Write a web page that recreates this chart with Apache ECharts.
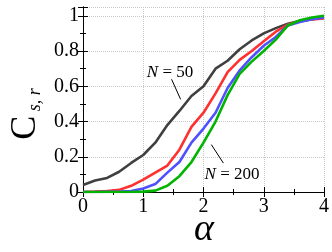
<!DOCTYPE html>
<html><head><meta charset="utf-8">
<script src="https://cdn.jsdelivr.net/npm/echarts@6/dist/echarts.min.js"></script>
<style>html,body{margin:0;padding:0;background:#fff}#c{width:332px;height:252px}</style>
</head><body><div id="c"></div>
<script>
const alpha = [0,0.2,0.4,0.6,0.8,1.0,1.2,1.4,1.6,1.8,2.0,2.2,2.4,2.6,2.8,3.0,3.2,3.4,3.6,3.8,4.0];
const cN50  = [0.04,0.065,0.08,0.115,0.165,0.21,0.28,0.38,0.46,0.545,0.60,0.70,0.745,0.81,0.86,0.90,0.93,0.955,0.97,0.98,0.99];
const cRed  = [0,0.002,0.005,0.012,0.035,0.07,0.11,0.15,0.24,0.37,0.45,0.56,0.68,0.75,0.80,0.855,0.91,0.95,0.97,0.98,0.985];
const cBlue = [0,0,0.001,0.002,0.005,0.02,0.045,0.11,0.17,0.28,0.36,0.45,0.59,0.69,0.765,0.83,0.88,0.945,0.965,0.98,0.99];
const cN200 = [0,0,0,0,0,0.002,0.008,0.035,0.09,0.17,0.28,0.40,0.55,0.67,0.74,0.80,0.865,0.945,0.975,0.99,1.0];
const xTicks = [0,1,2,3,4];
const yTicks = [0,0.2,0.4,0.6,0.8,1];
const colors = ['#404040','#ff3030','#5050ff','#00b400'];

const pair = arr => alpha.map((a,i)=>[a,arr[i]]);
const serif = 'Liberation Serif';
const chart = echarts.init(document.getElementById('c'));
const axisBase = {
  type:'value',
  axisLine:{show:true,lineStyle:{color:'#000',width:1}},
  axisTick:{show:true,inside:true,length:5,lineStyle:{color:'#000'}},
  minorTick:{show:true,splitNumber:2,length:3,lineStyle:{color:'#000'}},
};
const series = [cN50,cRed,cBlue,cN200].map((arr,k)=>({
  type:'line', data:pair(arr), showSymbol:false, symbol:'none',
  lineStyle:{color:colors[k],width:2.6}, itemStyle:{color:colors[k]}, z:2+k
}));
series[0].markLine = {silent:true, symbol:['none','arrow'], symbolSize:[0,7],
  label:{show:false}, lineStyle:{color:'#000',width:1,type:'solid'},
  data:[[{coord:[1.47,0.64]},{coord:[1.62,0.526]}],[{coord:[2.33,0.164]},{coord:[2.13,0.269]}]]};
chart.setOption({
  animation:false,
  textStyle:{fontFamily:serif},
  grid:{left:83,right:8,top:7,bottom:60,outerBoundsMode:'none',containLabel:false},
  xAxis:[
    Object.assign({},axisBase,{position:'bottom',min:xTicks[0],max:xTicks[xTicks.length-1],interval:1,
      splitLine:{show:true,lineStyle:{color:'#c8c8c8',type:'dotted',width:1}},
      axisLabel:{color:'#000',fontSize:20,fontFamily:serif,margin:5}}),
    Object.assign({},axisBase,{position:'top',min:0,max:4,interval:1,axisLabel:{show:false},splitLine:{show:false}})
  ],
  yAxis:[
    Object.assign({},axisBase,{position:'left',min:yTicks[0],max:1.05,interval:0.2,
      splitLine:{show:true,lineStyle:{color:'#c8c8c8',type:'dotted',width:1}},
      axisLabel:{color:'#000',fontSize:20,fontFamily:serif,margin:4,showMaxLabel:false,
        formatter:v=>(v===0||v===1)?String(v):v.toFixed(1)}}),
    Object.assign({},axisBase,{position:'right',min:0,max:1.05,interval:0.2,axisLabel:{show:false},splitLine:{show:false}})
  ],
  graphic:[
    {type:'text',x:26,y:114,rotation:Math.PI/2,
     style:{text:'{c|C}{s| s, r}',align:'center',verticalAlign:'middle',
       rich:{c:{fontSize:36,fontFamily:serif,fill:'#000',lineHeight:36},
             s:{fontSize:18,fontStyle:'italic',fontFamily:serif,fill:'#000',verticalAlign:'bottom',lineHeight:18}}}},
    {type:'text',x:204,y:230,style:{text:'α',align:'center',verticalAlign:'middle',
       fontSize:38,fontStyle:'italic',fontFamily:serif,fill:'#000'}},
    {type:'text',x:170,y:73,style:{text:'{i|N} = 50',align:'center',verticalAlign:'middle',
       rich:{i:{fontStyle:'italic',fontSize:17,fontFamily:serif,fill:'#000'}},fontSize:17,fontFamily:serif,fill:'#000'}},
    {type:'text',x:232,y:175,style:{text:'{i|N} = 200',align:'center',verticalAlign:'middle',
       rich:{i:{fontStyle:'italic',fontSize:17,fontFamily:serif,fill:'#000'}},fontSize:17,fontFamily:serif,fill:'#000'}}
  ],
  series: series
});
</script></body></html>
